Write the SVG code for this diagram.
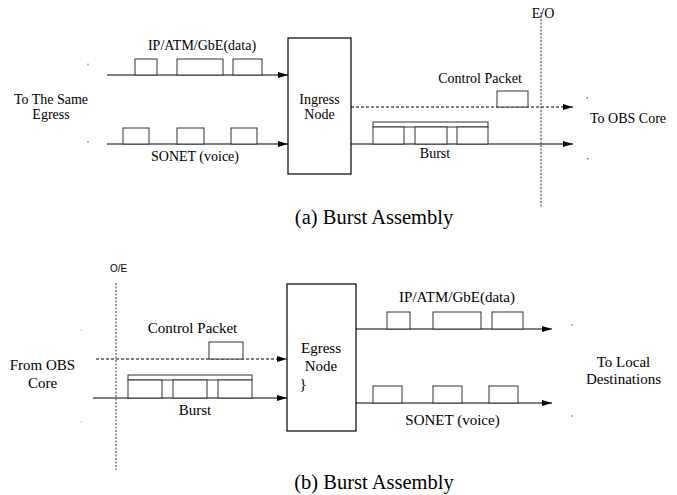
<svg xmlns="http://www.w3.org/2000/svg" width="677" height="495" viewBox="0 0 677 495">
<defs>
<style>
.t{font-family:"Liberation Serif","Times New Roman",serif;fill:#000;text-anchor:middle}
.s14{font-size:14px}
.s15{font-size:15px}
.cap{font-size:20.5px}
.sans{font-family:"Liberation Sans",Arial,sans-serif;font-size:10px;fill:#000;text-anchor:middle}
.ln{stroke:#000;stroke-width:1;fill:none}
.dash{stroke:#000;stroke-width:1;fill:none;stroke-dasharray:3,2}
.sep{stroke:#555;stroke-width:1.2;fill:none;stroke-dasharray:2,1.5}
.pk{fill:#fff;stroke:#333;stroke-width:1}
.node{fill:#fff;stroke:#000;stroke-width:1.2}
.speck{fill:#777}
</style>
<marker id="ah" markerWidth="10" markerHeight="6" refX="10" refY="3" orient="auto" markerUnits="userSpaceOnUse">
<path d="M0,0 L10,3 L0,6 z" fill="#000"/>
</marker>
</defs>
<rect width="677" height="495" fill="#fff"/>

<!-- (a) separators -->
<g id="eo-sep">
<line class="sep" x1="541" y1="12" x2="541" y2="207"/>
<text class="t s14" x="543" y="18">E/O</text>
</g>

<!-- (a) connectors -->
<g id="connectors-a">
<line class="ln" x1="107" y1="75" x2="288" y2="75" marker-end="url(#ah)"/>
<line class="ln" x1="107" y1="144" x2="288" y2="144" marker-end="url(#ah)"/>
<line class="dash" x1="351" y1="107" x2="573" y2="107" marker-end="url(#ah)"/>
<line class="ln" x1="351" y1="144" x2="573" y2="144" marker-end="url(#ah)"/>
</g>

<g id="packets-a">
<rect class="pk" x="135" y="59" width="22" height="16"/>
<rect class="pk" x="177" y="59" width="46" height="16"/>
<rect class="pk" x="233" y="59" width="29" height="16"/>
<rect class="pk" x="123" y="128" width="26" height="16"/>
<rect class="pk" x="177" y="128" width="27" height="16"/>
<rect class="pk" x="231" y="128" width="26" height="16"/>
<rect class="pk" x="497" y="91" width="31" height="16"/>
<rect class="pk" x="373" y="122" width="115" height="5"/>
<rect class="pk" x="373" y="127" width="31" height="17"/>
<rect class="pk" x="415" y="127" width="32" height="17"/>
<rect class="pk" x="457" y="127" width="31" height="17"/>
</g>

<g id="ingress-node">
<rect class="node" x="288" y="38" width="63" height="136"/>
<text class="t s14" x="319.5" y="104">Ingress</text>
<text class="t s14" x="319.5" y="119">Node</text>
</g>

<g id="labels-a">
<text class="t s14" x="202" y="50">IP/ATM/GbE(data)</text>
<text class="t s14" x="195" y="161">SONET (voice)</text>
<text class="t s14" x="51" y="104">To The Same</text>
<text class="t s14" x="51" y="119">Egress</text>
<text class="t s14" x="480" y="83">Control Packet</text>
<text class="t s14" x="435" y="158">Burst</text>
<text class="t s14" x="628" y="123">To OBS Core</text>
<text class="t cap" x="374" y="224">(a) Burst Assembly</text>
</g>

<g id="specks">
<rect class="speck" x="87.5" y="63.5" width="1" height="2"/>
<rect class="speck" x="87.5" y="141" width="1" height="2"/>
<rect class="speck" x="586.5" y="97" width="1.5" height="1.5"/>
<rect class="speck" x="587" y="158" width="1.5" height="1.5"/>
<rect class="speck" x="80.5" y="329" width="1" height="2" fill-opacity="0.4"/>
<rect class="speck" x="80.5" y="421" width="1" height="2" fill-opacity="0.4"/>
<rect class="speck" x="571.5" y="324" width="1" height="2"/>
<rect class="speck" x="571.5" y="415" width="1" height="2"/>
</g>

<!-- (b) separators -->
<g id="oe-sep">
<line class="sep" x1="116" y1="283" x2="116" y2="470"/>
<text class="sans" x="118.5" y="272">O/E</text>
</g>

<g id="connectors-b">
<line class="dash" x1="96" y1="359" x2="287" y2="359" marker-end="url(#ah)"/>
<line class="ln" x1="93" y1="398" x2="287" y2="398" marker-end="url(#ah)"/>
<line class="ln" x1="356" y1="329" x2="552" y2="329" marker-end="url(#ah)"/>
<line class="ln" x1="356" y1="403" x2="552" y2="403" marker-end="url(#ah)"/>
</g>

<g id="packets-b">
<rect class="pk" x="209" y="342" width="34" height="17"/>
<rect class="pk" x="128" y="375" width="124" height="5"/>
<rect class="pk" x="128" y="380" width="34" height="18"/>
<rect class="pk" x="173" y="380" width="34" height="18"/>
<rect class="pk" x="218" y="380" width="34" height="18"/>
<rect class="pk" x="387" y="312" width="23" height="17"/>
<rect class="pk" x="433" y="312" width="48" height="17"/>
<rect class="pk" x="492" y="312" width="31" height="17"/>
<rect class="pk" x="373" y="386" width="29" height="17"/>
<rect class="pk" x="433" y="386" width="29" height="17"/>
<rect class="pk" x="489" y="386" width="29" height="17"/>
</g>

<g id="egress-node">
<rect class="node" x="287" y="284" width="69" height="147"/>
<text class="t s15" x="321" y="353">Egress</text>
<text class="t s15" x="321" y="371">Node</text>
<text class="t s15" x="303" y="389">}</text>
</g>

<g id="labels-b">
<text class="t s15" x="192.5" y="333">Control Packet</text>
<text class="t s15" x="195" y="415">Burst</text>
<text class="t s15" x="42.5" y="370">From OBS</text>
<text class="t s15" x="42.5" y="388">Core</text>
<text class="t s15" x="457" y="302">IP/ATM/GbE(data)</text>
<text class="t s15" x="452.5" y="425">SONET (voice)</text>
<text class="t s15" x="623.5" y="367">To Local</text>
<text class="t s15" x="623.5" y="384">Destinations</text>
<text class="t cap" x="374" y="489">(b) Burst Assembly</text>
</g>
</svg>
